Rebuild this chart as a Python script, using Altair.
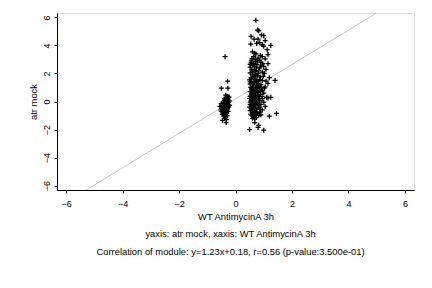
import altair as alt
import pandas as pd

# Cluster A (x around -0.3)
ax = [-0.30, -0.27, -0.33, -0.25, -0.29, -0.36, -0.26, -0.31, -0.40, -0.28, -0.34, -0.24, -0.43, -0.30, -0.37,
      -0.27, -0.45, -0.33, -0.40, -0.29, -0.48, -0.36, -0.25, -0.42, -0.31, -0.50, -0.38, -0.28, -0.45, -0.34,
      -0.41, -0.30, -0.49, -0.37, -0.44, -0.33, -0.40, -0.47, -0.36, -0.30, -0.42, -0.34, -0.38, -0.52, -0.55,
      -0.22, -0.21, -0.26, -0.46, -0.33, -0.37, -0.28, -0.50, -0.27, -0.35, -0.23, -0.44, -0.39, -0.50, -0.32,
      -0.35, -0.28, -0.42, -0.31, -0.38, -0.46, -0.26, -0.33, -0.40, -0.36]
ay = [0.40, 0.35, 0.30, 0.25, 0.20, 0.15, 0.12, 0.08, 0.05, 0.02, -0.02, -0.05, -0.08, -0.10, -0.14,
      -0.18, -0.20, -0.22, -0.27, -0.30, -0.32, -0.35, -0.38, -0.40, -0.44, -0.47, -0.50, -0.53, -0.56, -0.60,
      -0.64, -0.67, -0.70, -0.73, -0.78, -0.82, -0.86, -0.90, -0.95, -1.00, -1.05, -1.12, -1.20, -0.60, -0.35,
      0.05, -0.25, -0.70, -1.35, -1.50, 3.20, 1.45, 0.95, 0.95, 0.45, 0.32, -0.12, 0.18, -0.15, -1.30,
      -0.25, -0.45, -0.30, -0.85, -0.55, -0.70, 0.30, 0.10, -0.95, -0.05]

# Cluster B (x around 0.5-1.0)
bx = [0.72, 0.78, 0.82, 0.55, 0.66, 0.92, 1.00, 0.80, 0.86, 1.05, 1.25, 0.54, 0.95, 0.75, 1.00, 1.12, 0.60, 0.68,
      0.72, 1.15, 0.88, 0.95, 1.05, 0.58, 0.85, 0.78, 0.70, 1.15, 0.55, 0.62, 0.90, 1.00, 0.52, 0.74, 0.66, 0.58,
      0.82, 0.95, 1.02, 0.52, 0.70, 0.60, 0.78, 0.88, 0.55, 0.65, 1.20, 0.72, 0.50, 0.95, 1.40, 0.80, 0.58, 0.68,
      1.15, 0.52, 0.90, 0.76, 0.62, 1.05, 0.54, 0.70, 0.84, 0.58, 0.95, 0.66, 0.52, 0.78, 1.00, 0.60, 0.88, 0.70,
      0.54, 0.82, 1.10, 1.25, 1.15, 0.64, 0.95, 0.50, 0.75, 0.58, 0.86, 0.68, 0.52, 1.00, 0.78, 0.62, 0.90, 0.55,
      0.72, 1.05, 0.50, 0.84, 0.64, 0.58, 0.76, 0.95, 0.52, 0.68, 0.86, 0.60, 0.78, 1.45, 0.54, 0.70, 0.90, 0.64,
      1.20, 0.74, 0.60, 0.68, 0.82, 0.68, 0.50, 0.82, 0.80, 1.00,
      0.56, 0.64, 0.76, 0.86, 0.60, 0.72, 0.80, 0.66, 0.56, 0.86, 0.74, 0.62, 0.82, 0.56, 0.74, 0.62, 0.88, 0.72,
      0.56, 0.80, 0.66, 0.60, 0.84, 0.70, 0.55, 0.74, 0.66, 0.82, 0.58, 0.70, 0.54, 0.88, 0.62, 0.74, 0.66, 0.58,
      0.80, 0.92, 0.94, 0.98, 0.90, 0.64, 0.70, 0.80, 0.68, 0.96, 1.08, 1.02, 1.08, 0.76, 0.52, 0.52, 0.52, 0.52]
by = [5.80, 5.10, 5.05, 4.65, 4.45, 4.75, 4.70, 4.45, 4.20, 4.35, 4.00, 4.10, 4.05, 4.15, 3.95, 3.70, 3.55, 3.45,
      3.40, 3.35, 3.30, 3.20, 3.05, 3.05, 2.95, 2.90, 2.85, 2.70, 2.75, 2.60, 2.55, 2.50, 2.45, 2.40, 2.30, 2.25,
      2.20, 2.10, 2.00, 2.05, 1.95, 1.90, 1.85, 1.75, 1.70, 1.65, 1.70, 1.60, 1.55, 1.50, 1.50, 1.45, 1.40, 1.35,
      1.30, 1.25, 1.20, 1.15, 1.10, 1.05, 1.00, 0.95, 0.90, 0.85, 0.80, 0.75, 0.70, 0.65, 0.60, 0.55, 0.50, 0.45,
      0.40, 0.35, 0.30, 0.30, 0.25, 0.30, 0.20, 0.20, 0.15, 0.10, 0.05, 0.00, -0.05, -0.05, -0.10, -0.15, -0.20, -0.25,
      -0.30, -0.35, -0.40, -0.40, -0.45, -0.55, -0.55, -0.60, -0.65, -0.70, -0.75, -0.80, -0.85, -0.85, -0.90, -0.95, -0.95, -1.05,
      -1.05, -1.15, -1.20, -1.25, -1.00, -1.50, -2.00, -1.70, -1.85, -2.05,
      2.90, 2.70, 2.65, 2.40, 2.10, 2.15, 2.00, 1.80, 1.60, 1.55, 1.40, 1.25, 1.10, 0.95, 0.80, 0.65, 0.70, 0.60,
      0.55, 0.45, 0.40, 0.20, 0.20, 0.25, 0.05, -0.05, -0.25, -0.25, -0.35, -0.50, -0.45, -0.55, -0.60, -0.80, -0.90, -1.00,
      1.30, 1.00, 0.35, 1.80, 2.80, 3.20, 3.00, 3.10, 2.50, 2.70, 1.45, 0.95, 2.30, 1.00, 0.35, -0.20, 1.40, 2.65]

slope = 1.23
intercept = 0.18
line_x = [-6.32, 6.32]
ticks = [-6, -4, -2, 0, 2, 4, 6]

pts = pd.DataFrame({"x": ax + bx, "y": ay + by})
reg = pd.DataFrame({"x": line_x})

FONT = "Liberation Sans"
FS = 9.4
xs = alt.Scale(domain=[-6.32, 6.32], nice=False, zero=False)
ys = alt.Scale(domain=[-6.32, 6.32], nice=False, zero=False)

xaxis = alt.Axis(values=ticks, title="WT AntimycinA 3h", grid=False, tickSize=3, labelPadding=6,
                 titlePadding=4, domainColor="black", tickColor="black", labelFont=FONT, titleFont=FONT,
                 labelFontSize=9, titleFontSize=FS, titleFontWeight="normal", labelColor="black", titleColor="black")
yaxis = alt.Axis(values=ticks, title="atr mock", grid=False, tickSize=3, labelPadding=3, labelAngle=270,
                 labelAlign="center", labelBaseline="bottom", titlePadding=4,
                 domainColor="black", tickColor="black", labelFont=FONT, titleFont=FONT,
                 labelFontSize=9, titleFontSize=FS, titleFontWeight="normal", labelColor="black", titleColor="black")

line = alt.Chart(reg).mark_line(color="#c8c8c8", strokeWidth=1, clip=True).transform_calculate(
    y=f"{slope} * datum.x + {intercept}"
).encode(x=alt.X("x:Q", scale=xs, axis=xaxis), y=alt.Y("y:Q", scale=ys, axis=yaxis))

points = alt.Chart(pts).mark_point(shape="M-1,0L1,0M0,-1L0,1", size=25, filled=False, color="black",
                                   strokeWidth=1.25, opacity=1).encode(
    x=alt.X("x:Q", scale=xs, axis=xaxis), y=alt.Y("y:Q", scale=ys, axis=yaxis))

chart = alt.layer(line, points).properties(
    width=357, height=177,
    padding={"left": 57, "top": 13, "right": 18, "bottom": 98},
    autosize=alt.AutoSizeParams(type="none"),
    title=alt.TitleParams(
        text="yaxis: atr mock, xaxis: WT AntimycinA 3h",
        subtitle="Correlation of module: y=1.23x+0.18, r=0.56 (p-value:3.500e-01)",
        orient="bottom", anchor="middle", font=FONT, fontSize=FS, fontWeight="normal", color="black",
        subtitleFont=FONT, subtitleFontSize=FS, subtitleColor="black", subtitlePadding=8, offset=10, dx=-5),
).configure_view(stroke="#808080", strokeWidth=1).configure(background="white")

chart.save("out.html", embed_options={"renderer": "svg", "actions": False})
